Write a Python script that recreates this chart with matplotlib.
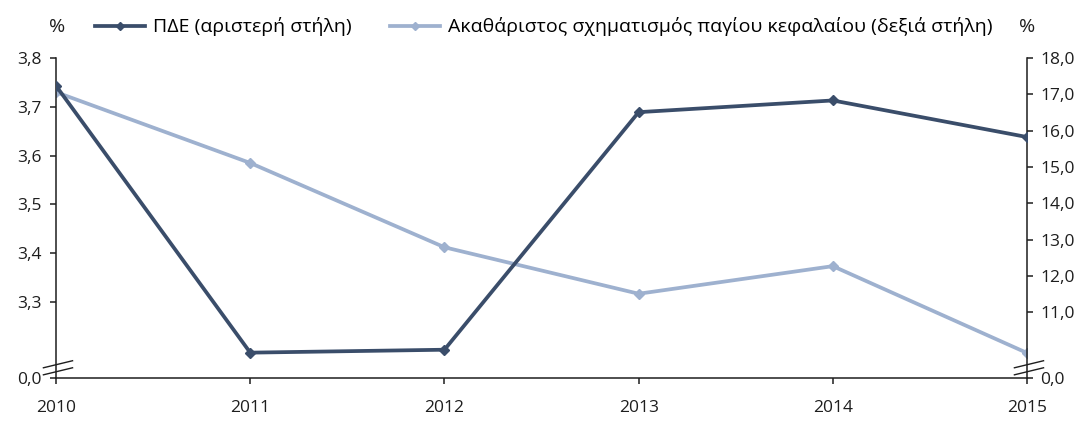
import matplotlib
matplotlib.use("Agg")
import matplotlib.pyplot as plt
from matplotlib.lines import Line2D

years = ["2010", "2011", "2012", "2013", "2014", "2015"]
pde = [3.743, 3.196, 3.202, 3.689, 3.713, 3.638]          # left axis
gfcf = [17.06, 15.11, 12.79, 11.51, 12.27, 9.88]          # right axis

left_ticks = [3.144, 3.3, 3.4, 3.5, 3.6, 3.7, 3.8]
left_labels = ["0,0", "3,3", "3,4", "3,5", "3,6", "3,7", "3,8"]
right_ticks = [9.19, 11, 12, 13, 14, 15, 16, 17, 18]
right_labels = ["0,0", "11,0", "12,0", "13,0", "14,0", "15,0", "16,0", "17,0", "18,0"]

name_pde = "ΠΔΕ (αριστερή στήλη)"
name_gfcf = "Ακαθάριστος σχηματισμός παγίου κεφαλαίου (δεξιά στήλη)"

dark = "#3a4d6a"
light = "#9eb1cf"
txt = "#1e1e1e"

plt.rcParams['font.family'] = ['Open Sans', 'DejaVu Sans']
fs = 12.5
lfs = 14

fig = plt.figure(figsize=(10.86, 4.21), dpi=100)
ax = fig.add_axes([0.0516, 0.1021, 0.8941, 0.7601])
ax2 = ax.twinx()

x = list(range(len(years)))
ax2.plot(x, gfcf, color=light, lw=2.7, marker="D", ms=5.5, zorder=2)
ax.plot(x, pde, color=dark, lw=2.7, marker="D", ms=5.5, zorder=3)
ax.set_zorder(ax2.get_zorder() + 1)
ax.patch.set_visible(False)

ax.set_xlim(0, 5)
ax.set_ylim(3.144, 3.8)
ax2.set_ylim(9.19, 18.0)
ax.set_xticks(x)
ax.set_xticklabels(years, fontsize=fs, color=txt)
ax.set_yticks(left_ticks)
ax.set_yticklabels(left_labels, fontsize=fs, color=txt)
ax2.set_yticks(right_ticks)
ax2.set_yticklabels(right_labels, fontsize=fs, color=txt)

for a in (ax, ax2):
    a.spines['top'].set_visible(False)
    for s in a.spines.values():
        s.set_color(txt)
        s.set_linewidth(1.1)
    a.tick_params(direction="out", length=4.5, width=1.1, colors=txt)
ax.spines['right'].set_visible(False)
ax2.spines['left'].set_visible(False)
ax2.spines['bottom'].set_visible(False)
ax.tick_params(axis='x', pad=11)
ax.tick_params(axis='y', pad=6)
ax2.tick_params(axis='y', pad=5)

# axis break marks
for xa in (0.002, 1.002):
    for dy in (0.021, 0.043):
        ax.plot([xa - 0.015, xa + 0.015], [dy - 0.011, dy + 0.011],
                transform=ax.transAxes, color=txt, lw=1.0, clip_on=False, zorder=5)

h1 = Line2D([], [], color=dark, lw=2.7, marker="D", ms=4.5)
h2 = Line2D([], [], color=light, lw=2.7, marker="D", ms=4.5)
ly = 0.936
for h, name, lx in ((h1, name_pde, 0.0875), (h2, name_gfcf, 0.359)):
    fig.legend([h], [name], frameon=False, fontsize=lfs, loc="center left",
               bbox_to_anchor=(lx, ly), handlelength=2.57, handletextpad=0.41,
               borderpad=0, borderaxespad=0)
fig.text(0.0525, ly, "%", fontsize=lfs, va="center", ha="center", color=txt)
fig.text(0.946, ly, "%", fontsize=lfs, va="center", ha="center", color=txt)

fig.savefig("out.png", dpi=100)
